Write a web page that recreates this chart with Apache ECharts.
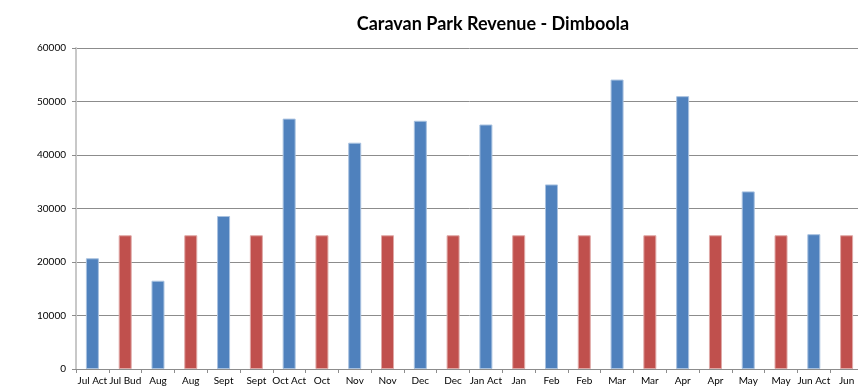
<!DOCTYPE html>
<html>
<head>
<meta charset="utf-8">
<script src="https://cdn.jsdelivr.net/npm/echarts@6/dist/echarts.min.js"></script>
<style>
  html, body { margin: 0; padding: 0; background: #fff; overflow: hidden; }
  #chart { width: 864px; height: 391px; }
</style>
</head>
<body>
<div id="chart"></div>
<script>
// Monthly revenue: actual takings alternate with the monthly budget figure
const categories = ['Jul Act', 'Jul Bud', 'Aug', 'Aug', 'Sept', 'Sept', 'Oct Act', 'Oct',
  'Nov', 'Nov', 'Dec', 'Dec', 'Jan Act', 'Jan', 'Feb', 'Feb', 'Mar', 'Mar',
  'Apr', 'Apr', 'May', 'May', 'Jun Act', 'Jun'];
const revenue = [20700, 25000, 16500, 25000, 28600, 25000, 46800, 25000,
  42300, 25000, 46400, 25000, 45700, 25000, 34500, 25000, 54100, 25000,
  51000, 25000, 33200, 25000, 25200, 25000];
const kind = ['act', 'bud', 'act', 'bud', 'act', 'bud', 'act', 'bud',
  'act', 'bud', 'act', 'bud', 'act', 'bud', 'act', 'bud', 'act', 'bud',
  'act', 'bud', 'act', 'bud', 'act', 'bud'];
const yTicks = { min: 0, max: 60000, interval: 10000 };

const palette = {
  act: { color: '#4F81BD', borderColor: '#a9c2e0' },
  bud: { color: '#C0504D', borderColor: '#e0a9a7' }
};

const chart = echarts.init(document.getElementById('chart'));
const font = 'Lato, "Open Sans", "Liberation Sans", sans-serif';

chart.setOption({
  animation: false,
  title: {
    text: 'Caravan Park Revenue - Dimboola',
    left: 488,
    textAlign: 'center',
    top: 10,
    textStyle: { fontFamily: font, fontSize: 18, fontWeight: 'bold', color: '#000' }
  },
  grid: { left: 76, top: 48, bottom: 22, right: 1, containLabel: false },
  xAxis: {
    type: 'category',
    data: categories,
    boundaryGap: true,
    axisLine: { lineStyle: { color: '#8c8c8c', width: 1 } },
    axisTick: { show: true, length: 4, alignWithLabel: false, lineStyle: { color: '#8c8c8c' } },
    axisLabel: { interval: 0, margin: 7, fontFamily: font, fontSize: 10, color: '#000' }
  },
  yAxis: {
    type: 'value',
    min: yTicks.min,
    max: yTicks.max,
    interval: yTicks.interval,
    axisLine: { show: true, lineStyle: { color: '#c8c8c8', width: 2 } },
    axisTick: { show: true, length: 4, lineStyle: { color: '#8c8c8c' } },
    axisLabel: {
      margin: 10, fontFamily: font, fontSize: 10, color: '#000',
      formatter: v => String(v)
    },
    splitLine: { lineStyle: { color: '#8c8c8c', width: 1 } }
  },
  series: [{
    type: 'bar',
    barWidth: 13,
    data: revenue.map((v, i) => ({
      value: v,
      itemStyle: {
        color: palette[kind[i]].color,
        borderColor: palette[kind[i]].borderColor,
        borderWidth: 1
      }
    }))
  }]
});
</script>
</body>
</html>
